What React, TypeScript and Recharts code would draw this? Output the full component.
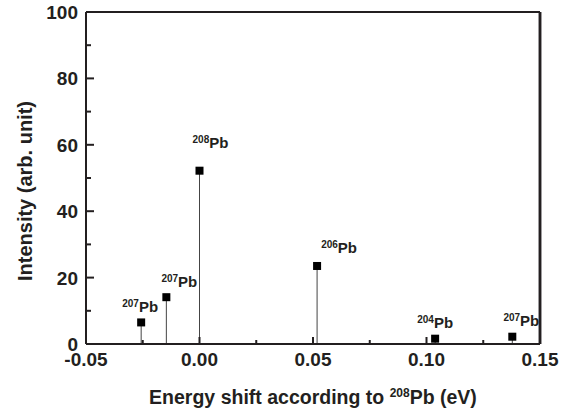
import React from 'react';
import { ScatterChart, Scatter, XAxis, YAxis, ReferenceLine } from 'recharts';

// Isotope lines: energy shift (eV) relative to 208Pb, and intensity (arb. unit)
const shifts = [-0.0257, -0.0146, 0.0, 0.0518, 0.1038, 0.1378];
const intensities = [6.5, 14.1, 52.2, 23.5, 1.6, 2.2];
const masses = ['207', '207', '208', '206', '204', '207'];

const xTicks = [-0.05, -0.025, 0, 0.025, 0.05, 0.075, 0.1, 0.125, 0.15];
const yTicks = [0, 10, 20, 30, 40, 50, 60, 70, 80, 90, 100];

// label placement relative to marker (styling, not data)
const labelOffsets = [
  [-1, -10],
  [13, -10],
  [11, -23],
  [22, -13],
  [0, -11],
  [9, -11],
];

const FONT = '"Liberation Sans", Arial, Helvetica, sans-serif';
const INK = '#231f20';

const points = shifts.map((x, i) => ({ x, y: intensities[i], mass: masses[i], i }));

const isMajorX = (v: number) => Math.abs(Math.round(v * 1000)) % 50 === 0;
const isMajorY = (v: number) => Math.round(v) % 20 === 0;

const BottomTick = (props: any) => {
  const { x, y, payload } = props;
  const v = payload.value as number;
  const major = isMajorX(v);
  return (
    <g>
      <line x1={x} x2={x} y1={y} y2={y - (major ? 7 : 4)} stroke={INK} strokeWidth={2} />
      {major && (
        <text x={x} y={y + 22} textAnchor="middle" fontFamily={FONT} fontWeight="bold" fontSize={19} fill={INK}>
          {v.toFixed(2)}
        </text>
      )}
    </g>
  );
};

const TopTick = (props: any) => {
  const { x, y, payload } = props;
  const major = isMajorX(payload.value);
  return <line x1={x} x2={x} y1={y} y2={y + (major ? 4 : 3)} stroke={INK} strokeWidth={1} />;
};

const LeftTick = (props: any) => {
  const { x, y, payload } = props;
  const v = payload.value as number;
  const major = isMajorY(v);
  return (
    <g>
      <line x1={x} x2={x + (major ? 8 : 5)} y1={y} y2={y} stroke={INK} strokeWidth={2} />
      {major && (
        <text x={x - 8} y={y + 7} textAnchor="end" fontFamily={FONT} fontWeight="bold" fontSize={19} fill={INK}>
          {v}
        </text>
      )}
    </g>
  );
};

const RightTick = (props: any) => {
  const { x, y, payload } = props;
  const major = isMajorY(payload.value);
  return <line x1={x} x2={x - (major ? 4 : 3)} y1={y} y2={y} stroke={INK} strokeWidth={1.5} />;
};

const Marker = (props: any) => {
  const { cx, cy, payload } = props;
  const [dx, dy] = labelOffsets[payload.i];
  return (
    <g>
      <rect x={cx - 4} y={cy - 4} width={8} height={8} fill="#000" />
      <text
        x={cx + dx}
        y={cy + dy}
        textAnchor="middle"
        fontFamily={FONT}
        fontWeight="bold"
        fill={INK}
      >
        <tspan fontSize={10} dy={-5}>{payload.mass}</tspan>
        <tspan fontSize={15} dy={5}>Pb</tspan>
      </text>
    </g>
  );
};

const XTitle = (props: any) => {
  const vb = props.viewBox;
  return (
    <text
      x={vb.x + vb.width / 2}
      y={vb.y + 60}
      textAnchor="middle"
      fontFamily={FONT}
      fontWeight="bold"
      fontSize={19.5}
      fill={INK}
    >
      <tspan>Energy shift according to </tspan>
      <tspan fontSize={12} dy={-7}>208</tspan>
      <tspan dy={7}>Pb (eV)</tspan>
    </text>
  );
};

const YTitle = (props: any) => {
  const vb = props.viewBox;
  const cx = vb.x + 32;
  const cy = vb.y + vb.height / 2 + 13;
  return (
    <text
      x={cx}
      y={cy}
      transform={`rotate(-90, ${cx}, ${cy})`}
      textAnchor="middle"
      fontFamily={FONT}
      fontWeight="bold"
      fontSize={20}
      fill={INK}
    >
      Intensity (arb. unit)
    </text>
  );
};

export default function App() {
  return (
    <div style={{ position: 'absolute', left: 0, top: 0, width: 574, height: 413, background: '#fff' }}>
      <ScatterChart width={574} height={413} margin={{ top: 11, right: 33, bottom: 0, left: 0 }}>
        <XAxis
          dataKey="x"
          type="number"
          domain={[-0.05, 0.15]}
          ticks={xTicks}
          interval={0}
          height={69}
          tickSize={0}
          tickMargin={0}
          tickLine={false}
          tick={BottomTick}
          axisLine={{ stroke: INK, strokeWidth: 2 }}
          label={{ content: XTitle }}
        />
        <XAxis
          xAxisId="top"
          orientation="top"
          type="number"
          domain={[-0.05, 0.15]}
          ticks={xTicks}
          interval={0}
          height={1}
          tickSize={0}
          tickMargin={0}
          tickLine={false}
          tick={TopTick}
          axisLine={{ stroke: INK, strokeWidth: 2 }}
        />
        <YAxis
          dataKey="y"
          type="number"
          domain={[0, 100]}
          ticks={yTicks}
          interval={0}
          width={86}
          tickSize={0}
          tickMargin={0}
          tickLine={false}
          tick={LeftTick}
          axisLine={{ stroke: INK, strokeWidth: 2 }}
          label={{ content: YTitle }}
        />
        <YAxis
          yAxisId="right"
          orientation="right"
          type="number"
          domain={[0, 100]}
          ticks={yTicks}
          interval={0}
          width={1}
          tickSize={0}
          tickMargin={0}
          tickLine={false}
          tick={RightTick}
          axisLine={{ stroke: INK, strokeWidth: 2.5 }}
        />
        <ReferenceLine y={100} stroke={INK} strokeWidth={2} />
        <ReferenceLine x={0.15} stroke={INK} strokeWidth={2.5} />
        {points.map((p) => (
          <ReferenceLine
            key={p.i}
            segment={[{ x: p.x, y: 0 }, { x: p.x, y: p.y }]}
            stroke="#444"
            strokeWidth={1}
          />
        ))}
        <Scatter data={points} shape={Marker} isAnimationActive={false} />
      </ScatterChart>
    </div>
  );
}
